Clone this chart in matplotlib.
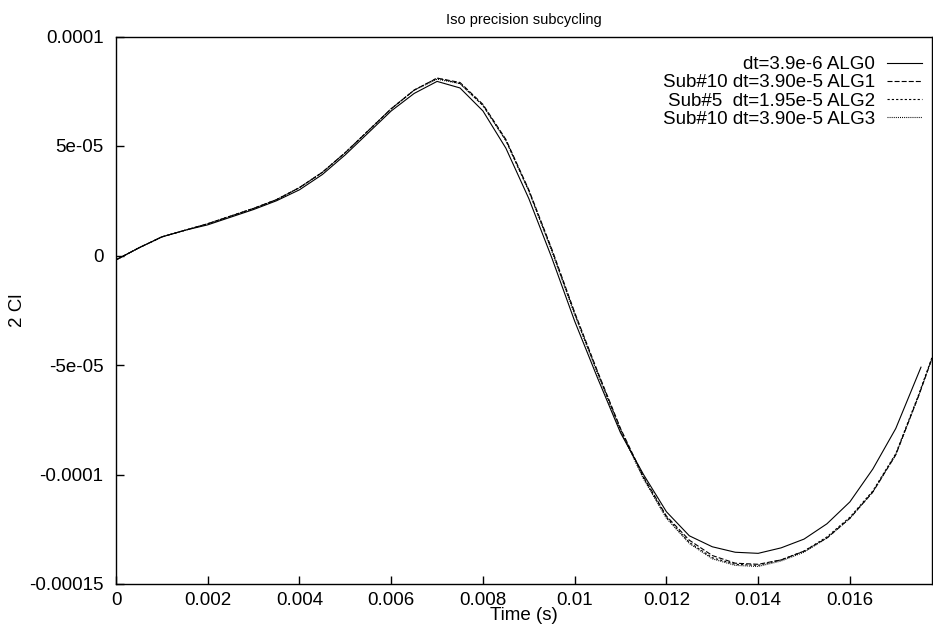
import matplotlib
matplotlib.use("Agg")
import matplotlib.pyplot as plt
import numpy as np

plt.rcParams['font.family'] = ['Liberation Sans', 'DejaVu Sans']
plt.rcParams['lines.scale_dashes'] = False

title = "Iso precision subcycling"
xlabel = "Time (s)"
ylabel = "2 Cl"
labels = ["dt=3.9e-6 ALG0", "Sub#10 dt=3.90e-5 ALG1",
          "Sub#5  dt=1.95e-5 ALG2", "Sub#10 dt=3.90e-5 ALG3"]

# ALG0 (solid), values in units of 1e-5
t0 = [0.0, 0.0005, 0.001, 0.0015, 0.002, 0.0025, 0.003, 0.0035, 0.004, 0.0045,
      0.005, 0.0055, 0.006, 0.0065, 0.007, 0.0075, 0.008, 0.0085, 0.009, 0.0095,
      0.010, 0.0105, 0.011, 0.0115, 0.012, 0.0125, 0.013, 0.0135, 0.014, 0.0145,
      0.015, 0.0155, 0.016, 0.0165, 0.017, 0.01755]
y0 = [-0.2, 0.35, 0.85, 1.15, 1.4, 1.75, 2.1, 2.5, 3.0, 3.7,
      4.6, 5.6, 6.6, 7.4, 7.95, 7.65, 6.6, 4.9, 2.6, -0.1,
      -3.0, -5.6, -8.1, -10.0, -11.7, -12.8, -13.3, -13.55, -13.6, -13.35,
      -12.95, -12.25, -11.25, -9.75, -7.9, -5.1]

# Subcycled runs (t in s, values in units of 1e-5)
t1 = [0.0, 0.0005, 0.001, 0.0015, 0.002, 0.0025, 0.003, 0.0035, 0.004, 0.0045,
      0.005, 0.0055, 0.006, 0.0065, 0.007, 0.0075, 0.008, 0.0085, 0.009, 0.0095,
      0.010, 0.0105, 0.011, 0.0115, 0.012, 0.0125, 0.013, 0.0135, 0.014, 0.0145,
      0.015, 0.0155, 0.016, 0.0165, 0.017, 0.0175, 0.01779]
y1 = [-0.2, 0.35, 0.85, 1.15, 1.45, 1.8, 2.15, 2.55, 3.1, 3.8,
      4.7, 5.7, 6.7, 7.55, 8.1, 7.9, 6.9, 5.3, 3.0, 0.3,
      -2.6, -5.3, -7.9, -10.1, -11.9, -13.0, -13.7, -14.05, -14.1, -13.9,
      -13.5, -12.9, -12.0, -10.8, -9.1, -6.4, -4.7]
y2 = [-0.2, 0.35, 0.85, 1.15, 1.45, 1.8, 2.15, 2.55, 3.1, 3.8,
      4.7, 5.7, 6.7, 7.55, 8.1, 7.85, 6.85, 5.25, 2.95, 0.25,
      -2.65, -5.35, -7.95, -10.15, -11.95, -13.1, -13.8, -14.1, -14.15, -13.9,
      -13.5, -12.85, -11.95, -10.75, -9.05, -6.35, -4.65]
y3 = [-0.2, 0.35, 0.85, 1.15, 1.45, 1.8, 2.15, 2.55, 3.1, 3.8,
      4.7, 5.7, 6.7, 7.55, 8.05, 7.85, 6.85, 5.25, 2.95, 0.2,
      -2.7, -5.4, -8.0, -10.2, -12.0, -13.15, -13.85, -14.15, -14.2, -13.95,
      -13.55, -12.9, -12.0, -10.8, -9.1, -6.4, -4.7]

xticks = [0, 0.002, 0.004, 0.006, 0.008, 0.010, 0.012, 0.014, 0.016]
xticklabels = ["0", "0.002", "0.004", "0.006", "0.008", "0.01", "0.012", "0.014", "0.016"]
yticks = [-0.00015, -0.0001, -0.00005, 0, 0.00005, 0.0001]
yticklabels = ["-0.00015", "-0.0001", "-5e-05", "0", "5e-05", "0.0001"]

fs = 13.5
fig = plt.figure(figsize=(9.33, 6.32), dpi=100)
ax = fig.add_axes([116/933, (632-584)/632, (932-116)/933, (584-36.5)/632])

lw = 0.8
scale = 1e-5
ax.plot(t0, np.array(y0)*scale, color='black', lw=lw, label=labels[0])
ax.plot(t1, np.array(y1)*scale, color='black', lw=lw, ls=(0, (3.6, 1.5)), label=labels[1])
ax.plot(t1, np.array(y2)*scale, color='black', lw=lw, ls=(0, (1.6, 1.5)), label=labels[2])
ax.plot(t1, np.array(y3)*scale, color='black', lw=lw, ls=(0, (0.7, 0.8)), label=labels[3])

ax.set_xlim(0, 0.01779)
ax.set_ylim(-0.00015, 0.0001)
ax.set_xticks(xticks)
ax.set_xticklabels(xticklabels, fontsize=fs)
ax.set_yticks(yticks)
ax.set_yticklabels(yticklabels, fontsize=fs)
ax.tick_params(axis='y', direction='in', length=6, width=1, pad=9, colors='black')
ax.tick_params(axis='x', direction='in', length=6, width=1, pad=6, colors='black')
for s in ax.spines.values():
    s.set_linewidth(1.0)

ax.set_title(title, fontsize=10.5, pad=9)
ax.set_xlabel(xlabel, fontsize=fs, labelpad=-2)
ax.set_ylabel(ylabel, fontsize=fs, labelpad=2)

leg = ax.legend(loc='upper right', bbox_to_anchor=(922/933, (632-56)/632),
                bbox_transform=fig.transFigure, frameon=False, markerfirst=False,
                fontsize=fs, handlelength=1.87, handletextpad=0.64,
                labelspacing=0.06, borderpad=0, borderaxespad=0)

fig.savefig("out.png", dpi=100)
